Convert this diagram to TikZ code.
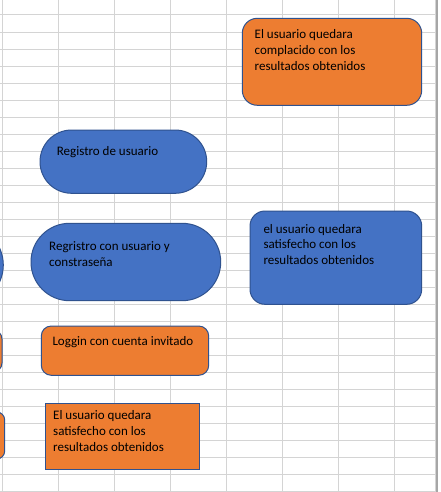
\documentclass[tikz,border=0pt]{standalone}
\usepackage{fontspec}
\setmainfont{Carlito}
\definecolor{gridc}{HTML}{D4D4D4}
\definecolor{borderc}{HTML}{A6A6A6}
\definecolor{xlblue}{HTML}{4472C4}
\definecolor{xlorange}{HTML}{ED7D31}
\definecolor{edgec}{HTML}{2F528F}
\begin{document}
\begin{tikzpicture}[x=1pt,y=-1pt,
  gridline/.style={draw=gridc,line width=1pt},
  blueshape/.style={fill=xlblue,draw=edgec,line width=1pt},
  orangeshape/.style={fill=xlorange,draw=edgec,line width=1pt},
  txt/.style={anchor=base west,inner sep=0pt,font=\fontsize{13}{16}\selectfont,text=black}]
\useasboundingbox (0,0) rectangle (440,492);
\fill[white] (0,0) rectangle (440,492);
% grid
\foreach \k in {0,...,28} {
  \draw[gridline] (0,15+17.03*\k) -- (435,15+17.03*\k);
}
\foreach \k in {0,...,7} {
  \draw[gridline] (2.5+56*\k,0) -- (2.5+56*\k,492);
}
\draw[draw=gridc,line width=1pt] (435,0) -- (435,492);
\draw[draw=borderc,line width=1.5pt] (436.9,0) -- (436.9,492);
% partial shapes at the left edge
\begin{scope}
\clip (0,0) rectangle (440,492);
\draw[blueshape,rounded corners=40pt] (-200,225) rectangle (3.3,305);
\draw[orangeshape,rounded corners=9pt] (-200,330) rectangle (2,372);
\draw[orangeshape,rounded corners=8pt] (-200,412) rectangle (4.7,459);
\end{scope}
% top right orange box
\draw[orangeshape,rounded corners=15pt] (242.3,18.3) rectangle (421.7,105.3);
\node[txt] (a1) at (254.5,39) {El usuario quedara};
\node[txt] (a2) at (254.5,55) {complacido con los};
\node[txt] (a3) at (254.5,71) {resultados obtenidos};
% Registro de usuario
\draw[blueshape,rounded corners=31.6pt] (40,130) rectangle (206.7,193.3);
\node[txt] (b1) at (56.7,155.7) {Registro de usuario};
% Regristro con usuario y constrasena
\draw[blueshape,rounded corners=38.6pt] (31,223.3) rectangle (220.7,300.7);
\node[txt] (c1) at (49,250.7) {Regristro con usuario y};
\node[txt] (c2) at (49,266.4) {constraseña};
% blue box right
\draw[blueshape,rounded corners=15pt] (250,211) rectangle (421.7,304.3);
\node[txt] (d1) at (263.3,233) {el usuario quedara};
\node[txt] (d2) at (263.3,248.7) {satisfecho con los};
\node[txt] (d3) at (263.3,264.4) {resultados obtenidos};
% Loggin
\draw[orangeshape,rounded corners=10pt] (41.3,326) rectangle (208.7,375.3);
\node[txt] (e1) at (52.3,345.7) {Loggin con cuenta invitado};
% bottom orange rectangle
\draw[orangeshape] (45,403.3) rectangle (199.7,469.3);
\node[txt] (f1) at (53,419.7) {El usuario quedara};
\node[txt] (f2) at (53,435.5) {satisfecho con los};
\node[txt] (f3) at (53,451.4) {resultados obtenidos};
\end{tikzpicture}
\end{document}
